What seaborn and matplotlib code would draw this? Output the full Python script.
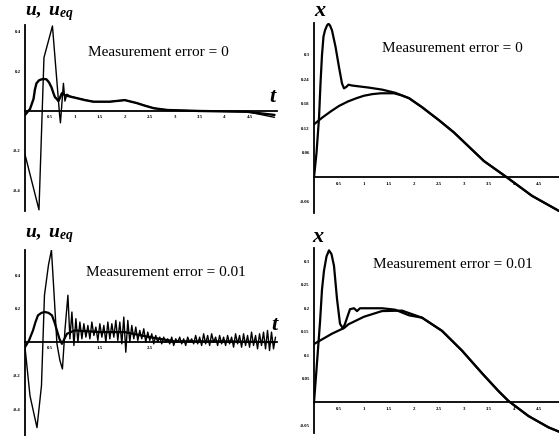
import numpy as np
import matplotlib
matplotlib.use("Agg")
import matplotlib.pyplot as plt
import seaborn as sns

# --- top left: u and u_eq, measurement error = 0
t_u_a = [0.0, 0.28, 0.38, 0.55, 0.69, 0.71, 0.77, 0.80, 0.84, 0.90, 1.04, 1.37, 1.70, 2.00,
         2.24, 2.58, 2.85, 3.50, 4.45, 5.00]
u_a = [-0.22, -0.50, 0.27, 0.43, -0.01, -0.06, 0.14, 0.05, 0.085, 0.075, 0.065, 0.047, 0.047,
       0.055, 0.040, 0.014, 0.005, 0.0, -0.004, -0.032]
t_ueq_a = [0.0, 0.10, 0.17, 0.20, 0.23, 0.28, 0.33, 0.38, 0.43, 0.48, 0.53, 0.57, 0.60, 0.64,
           0.67, 0.74, 0.80, 0.90, 1.04, 1.20, 1.37, 1.70, 2.00, 2.24, 2.40, 2.58, 2.85, 3.50,
           4.45, 5.00]
ueq_a = [-0.02, 0.01, 0.06, 0.11, 0.14, 0.155, 0.16, 0.162, 0.16, 0.145, 0.12, 0.09, 0.07, 0.06,
         0.05, 0.09, 0.08, 0.073, 0.065, 0.055, 0.047, 0.047, 0.055, 0.040, 0.027, 0.014, 0.005,
         0.0, -0.004, -0.02]

# --- top right: x and reference, measurement error = 0
t_x_a = [0.0, 0.05, 0.10, 0.13, 0.16, 0.19, 0.22, 0.26, 0.29, 0.32, 0.36, 0.43, 0.50, 0.56,
         0.60, 0.65, 0.69, 0.76, 1.09, 1.36, 1.63, 1.90, 2.16, 2.50, 2.80, 3.10, 3.40, 3.86,
         4.36, 4.90]
x_a = [0.0, 0.06, 0.145, 0.23, 0.30, 0.345, 0.36, 0.372, 0.376, 0.372, 0.36, 0.32, 0.27, 0.23,
       0.218, 0.222, 0.227, 0.225, 0.22, 0.215, 0.207, 0.194, 0.172, 0.14, 0.11, 0.075, 0.04,
       0.0, -0.045, -0.082]
t_xeq_a = [0.0, 0.17, 0.34, 0.50, 0.68, 0.85, 1.00, 1.17, 1.34, 1.60, 1.75, 1.90, 2.16, 2.50,
           2.80, 3.10, 3.40, 3.86, 4.36, 4.90]
xeq_a = [0.13, 0.147, 0.162, 0.175, 0.186, 0.194, 0.20, 0.204, 0.206, 0.206, 0.201, 0.194, 0.172,
         0.14, 0.11, 0.075, 0.04, 0.0, -0.045, -0.082]

# --- bottom left: u and u_eq, measurement error = 0.01
t_u_b = [0.0, 0.10, 0.24, 0.33, 0.39, 0.47, 0.53, 0.58, 0.64, 0.70, 0.75, 0.80, 0.86]
u_b = [-0.03, -0.32, -0.51, -0.26, 0.28, 0.46, 0.55, 0.30, -0.01, -0.11, -0.16, 0.07, 0.28]
u_b_noisy = [0.02, 0.18, -0.02, 0.14, 0.00, 0.12, 0.02, 0.11, 0.03, 0.10, 0.02, 0.12, 0.04,
             0.09, 0.01, 0.11, 0.03, 0.10, 0.00, 0.12, 0.02, 0.11, 0.03, 0.13, 0.01, 0.12,
             -0.01, 0.15, -0.06, 0.13, 0.00, 0.10, 0.02, 0.09, 0.01, 0.07, 0.02, 0.08, 0.00,
             0.06, 0.01, 0.05, -0.01, 0.04, 0.00, 0.03, -0.01, 0.03, 0.00, 0.02, -0.01, 0.03,
             -0.02, 0.02, 0.00, 0.03, -0.01, 0.02, -0.02, 0.03, 0.00, 0.02, -0.01, 0.04, -0.01,
             0.03, -0.02, 0.05, -0.01, 0.04, -0.02, 0.05, 0.00, 0.03, -0.02, 0.04, -0.01, 0.03,
             -0.02, 0.04, -0.01, 0.03, -0.03, 0.05, -0.01, 0.04, -0.03, 0.05, -0.02, 0.04, -0.03,
             0.06, -0.02, 0.04, -0.04, 0.05, -0.02, 0.06, -0.04, 0.07, -0.05, 0.06, -0.04, 0.03]
t_ueq_b = [0.0, 0.08, 0.16, 0.21, 0.26, 0.33, 0.40, 0.47, 0.54, 0.59, 0.64, 0.69, 0.74, 0.84,
           1.00, 1.50, 2.00, 2.50, 3.00, 4.00, 5.00]
ueq_b = [-0.03, 0.01, 0.07, 0.12, 0.16, 0.175, 0.18, 0.175, 0.16, 0.12, 0.07, 0.02, -0.01, 0.05,
         0.07, 0.06, 0.06, 0.03, 0.005, 0.005, 0.0]

# --- bottom right: x and reference, measurement error = 0.01
t_x_b = [0.0, 0.05, 0.12, 0.16, 0.20, 0.25, 0.30, 0.35, 0.40, 0.46, 0.52, 0.58, 0.62, 0.72,
         0.80, 0.86, 0.92, 1.10, 1.36, 1.62, 1.90, 2.16, 2.56, 2.96, 3.36, 3.69, 3.89, 4.29,
         4.69, 4.92]
x_b = [0.0, 0.07, 0.17, 0.24, 0.28, 0.31, 0.323, 0.315, 0.29, 0.22, 0.167, 0.157, 0.167, 0.198,
       0.20, 0.194, 0.20, 0.20, 0.20, 0.197, 0.185, 0.18, 0.152, 0.11, 0.062, 0.024, 0.003,
       -0.029, -0.053, -0.063]
t_xeq_b = [0.0, 0.36, 0.60, 0.69, 1.00, 1.36, 1.76, 2.16, 2.56, 2.96, 3.36, 3.69, 3.89, 4.29,
           4.69, 4.92]
xeq_b = [0.124, 0.146, 0.158, 0.166, 0.182, 0.194, 0.195, 0.18, 0.152, 0.11, 0.062, 0.024, 0.003,
         -0.029, -0.053, -0.063]

t_ticks = [0.5, 1, 1.5, 2, 2.5, 3, 3.5, 4, 4.5]
t_labels = ["0.5", "1", "1.5", "2", "2.5", "3", "3.5", "4", "4.5"]
u_ticks = [-0.4, -0.2, 0.2, 0.4]
u_labels = ["-0.4", "-0.2", "0.2", "0.4"]
xa_ticks = [-0.06, 0.06, 0.12, 0.18, 0.24, 0.3]
xa_labels = ["-0.06", "0.06", "0.12", "0.18", "0.24", "0.3"]
xb_ticks = [-0.05, 0.05, 0.1, 0.15, 0.2, 0.25, 0.3]
xb_labels = ["-0.05", "0.05", "0.1", "0.15", "0.2", "0.25", "0.3"]

sns.set_style("white")
plt.rcParams["font.family"] = ["Liberation Serif", "DejaVu Serif"]
plt.rcParams["mathtext.fontset"] = "custom"
plt.rcParams["mathtext.it"] = "Liberation Serif:italic:bold"
plt.rcParams["mathtext.rm"] = "Liberation Serif:bold"

W, H = 559, 436
fig = plt.figure(figsize=(W / 100, H / 100), dpi=100)


def box(l, t, r, b):
    return [l / W, 1 - b / H, (r - l) / W, (b - t) / H]


def style(ax, xlim, ylim, xt, xl, yt, yl):
    ax.set_xlim(*xlim)
    ax.set_ylim(*ylim)
    ax.patch.set_alpha(0)
    for s in ["top", "right"]:
        ax.spines[s].set_visible(False)
    for s in ["left", "bottom"]:
        ax.spines[s].set_position(("data", 0))
        ax.spines[s].set_color("black")
        ax.spines[s].set_linewidth(1.3)
    ax.set_xticks(xt, xl)
    ax.set_yticks(yt, yl)
    ax.tick_params(direction="inout", length=3, width=0.9, labelsize=3.5, pad=1.5,
                   colors="black")
    for lab in ax.get_xticklabels() + ax.get_yticklabels():
        lab.set_fontweight("bold")
    ax.set_xlabel("")
    ax.set_ylabel("")


def txt(x, y, s, **kw):
    fig.text(x / W, 1 - y / H, s, ha="center", va="center", color="black", **kw)


# top left
ax1 = fig.add_axes(box(25, 25, 277, 211))
sns.lineplot(x=t_ueq_a, y=ueq_a, ax=ax1, color="black", lw=1.7)
sns.lineplot(x=t_u_a, y=u_a, ax=ax1, color="black", lw=1.0)
style(ax1, (0, 5.05), (-0.506, 0.435), t_ticks, t_labels, u_ticks, u_labels)

# top right
ax2 = fig.add_axes(box(314, 23, 559, 213))
sns.lineplot(x=t_xeq_a, y=xeq_a, ax=ax2, color="black", lw=1.6)
sns.lineplot(x=t_x_a, y=x_a, ax=ax2, color="black", lw=1.6)
style(ax2, (0, 4.9), (-0.087, 0.378), t_ticks, t_labels, xa_ticks, xa_labels)

# bottom left
ax3 = fig.add_axes(box(25, 250, 277, 436))
t_noisy = list(np.linspace(0.90, 5.02, len(u_b_noisy)))
sns.lineplot(x=t_ueq_b, y=ueq_b, ax=ax3, color="black", lw=1.6)
sns.lineplot(x=t_u_b + t_noisy, y=u_b + u_b_noisy, ax=ax3, color="black", lw=1.0)
style(ax3, (0, 5.05), (-0.56, 0.55), [0.5, 1.5, 2.5], ["0.5", "1.5", "2.5"], u_ticks, u_labels)

# bottom right
ax4 = fig.add_axes(box(314, 248, 559, 433))
sns.lineplot(x=t_xeq_b, y=xeq_b, ax=ax4, color="black", lw=1.6)
sns.lineplot(x=t_x_b, y=x_b, ax=ax4, color="black", lw=1.6)
style(ax4, (0, 4.9), (-0.065, 0.328), t_ticks, t_labels, xb_ticks, xb_labels)

# texts
txt(158, 53, "Measurement error = 0", fontsize=11)
txt(452, 48, "Measurement error = 0", fontsize=11)
txt(166, 273, "Measurement error = 0.01", fontsize=11)
txt(453, 265, "Measurement error = 0.01", fontsize=11)
txt(50, 14, r"$u,\ u_{eq}$", fontsize=14)
txt(50, 236, r"$u,\ u_{eq}$", fontsize=14)
txt(273, 98, r"$t$", fontsize=16)
txt(275, 326, r"$t$", fontsize=16)
txt(320, 12, r"$x$", fontsize=16)
txt(318, 238, r"$x$", fontsize=16)

fig.savefig("out.png", dpi=100)
